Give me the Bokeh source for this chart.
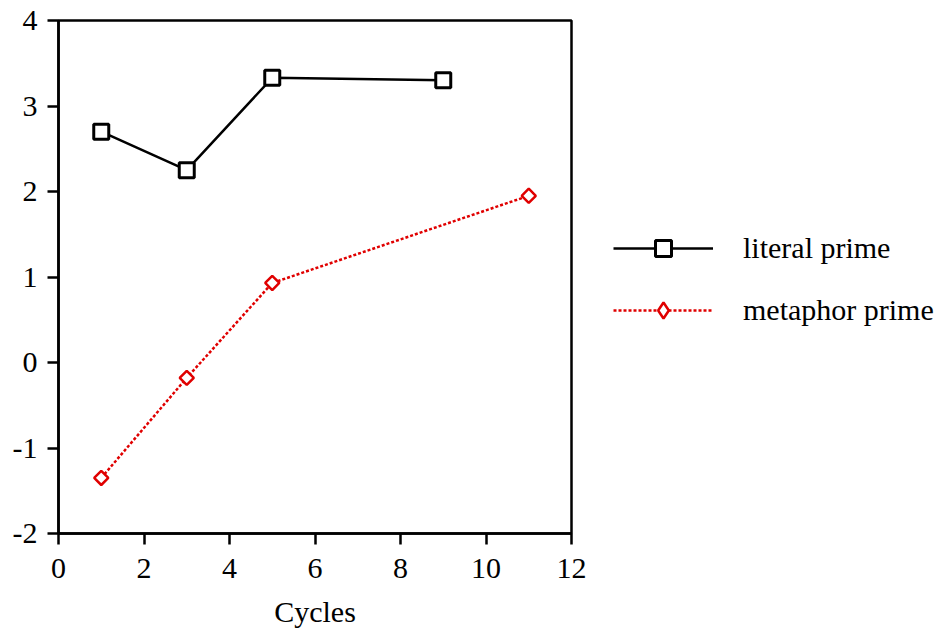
import math
from bokeh.plotting import figure
from bokeh.models import Range1d, FixedTicker, Legend, LegendItem
from bokeh.embed import file_html
from bokeh.resources import INLINE

# data
literal_x = [1, 3, 5, 9]
literal_y = [2.70, 2.25, 3.33, 3.30]
metaphor_x = [1, 3, 5, 11]
metaphor_y = [-1.35, -0.18, 0.93, 1.95]
x_ticks = [0, 2, 4, 6, 8, 10, 12]
y_ticks = [-2, -1, 0, 1, 2, 3, 4]
series_names = ["literal prime", "metaphor prime"]
x_label = "Cycles"

FONT = "Liberation Serif"
RED = "#e00000"

p = figure(frame_width=513, frame_height=513, output_backend="svg", toolbar_location=None,
           x_range=Range1d(0, 12), y_range=Range1d(-2, 4),
           min_border_left=58, min_border_right=354, min_border_top=20, min_border_bottom=82)
p.xgrid.visible = False
p.ygrid.visible = False
p.outline_line_color = "black"
p.outline_line_width = 2.5
p.background_fill_color = "white"
p.border_fill_color = "white"

for ax in (p.xaxis[0], p.yaxis[0]):
    ax.axis_line_width = 2.5
    ax.major_tick_line_width = 2.5
    ax.major_tick_out = 11
    ax.major_tick_in = 0
    ax.minor_tick_out = 0
    ax.minor_tick_in = 0
    ax.major_label_text_font = FONT
    ax.major_label_text_font_size = "30px"
    ax.major_label_text_color = "black"

p.xaxis[0].ticker = FixedTicker(ticks=x_ticks)
p.yaxis[0].ticker = FixedTicker(ticks=y_ticks)
p.xaxis[0].major_label_overrides = {t: str(t) for t in x_ticks}
p.yaxis[0].major_label_overrides = {t: str(t) for t in y_ticks}
p.xaxis[0].major_label_standoff = 14
p.yaxis[0].major_label_standoff = 10
p.xaxis[0].axis_label = x_label
p.xaxis[0].axis_label_text_font = FONT
p.xaxis[0].axis_label_text_font_size = "30px"
p.xaxis[0].axis_label_text_font_style = "normal"
p.xaxis[0].axis_label_text_color = "black"
p.xaxis[0].axis_label_standoff = 14

l1 = p.line(literal_x, literal_y, line_color="black", line_width=2.5)
m1 = p.scatter(literal_x, literal_y, marker="square", size=15, fill_color="white",
               line_color="black", line_width=3)
l2 = p.line(metaphor_x, metaphor_y, line_color=RED, line_width=2.5, line_dash="3 2")
m2 = p.scatter(metaphor_x, metaphor_y, marker="square", size=10, angle=math.pi / 4,
               fill_color="white", line_color=RED, line_width=2.5)
# legend-only sample marker (diamond shape for the key); its single point is NaN, so not drawn in the plot
m2_key = p.scatter(x=[float("nan")], y=[float("nan")], marker="diamond", size=16,
                   fill_color="white", line_color=RED, line_width=2.5)

legend = Legend(items=[LegendItem(label=series_names[0], renderers=[l1, m1]),
                       LegendItem(label=series_names[1], renderers=[l2, m2_key])],
                location=(42, 203), border_line_color=None, background_fill_alpha=0,
                glyph_width=100, glyph_height=40, label_height=40, label_standoff=30,
                spacing=22, padding=0, margin=0,
                label_text_font=FONT, label_text_font_size="30px", label_text_color="black")
p.add_layout(legend, "right")

open("out.html", "w").write(file_html(p, INLINE))
